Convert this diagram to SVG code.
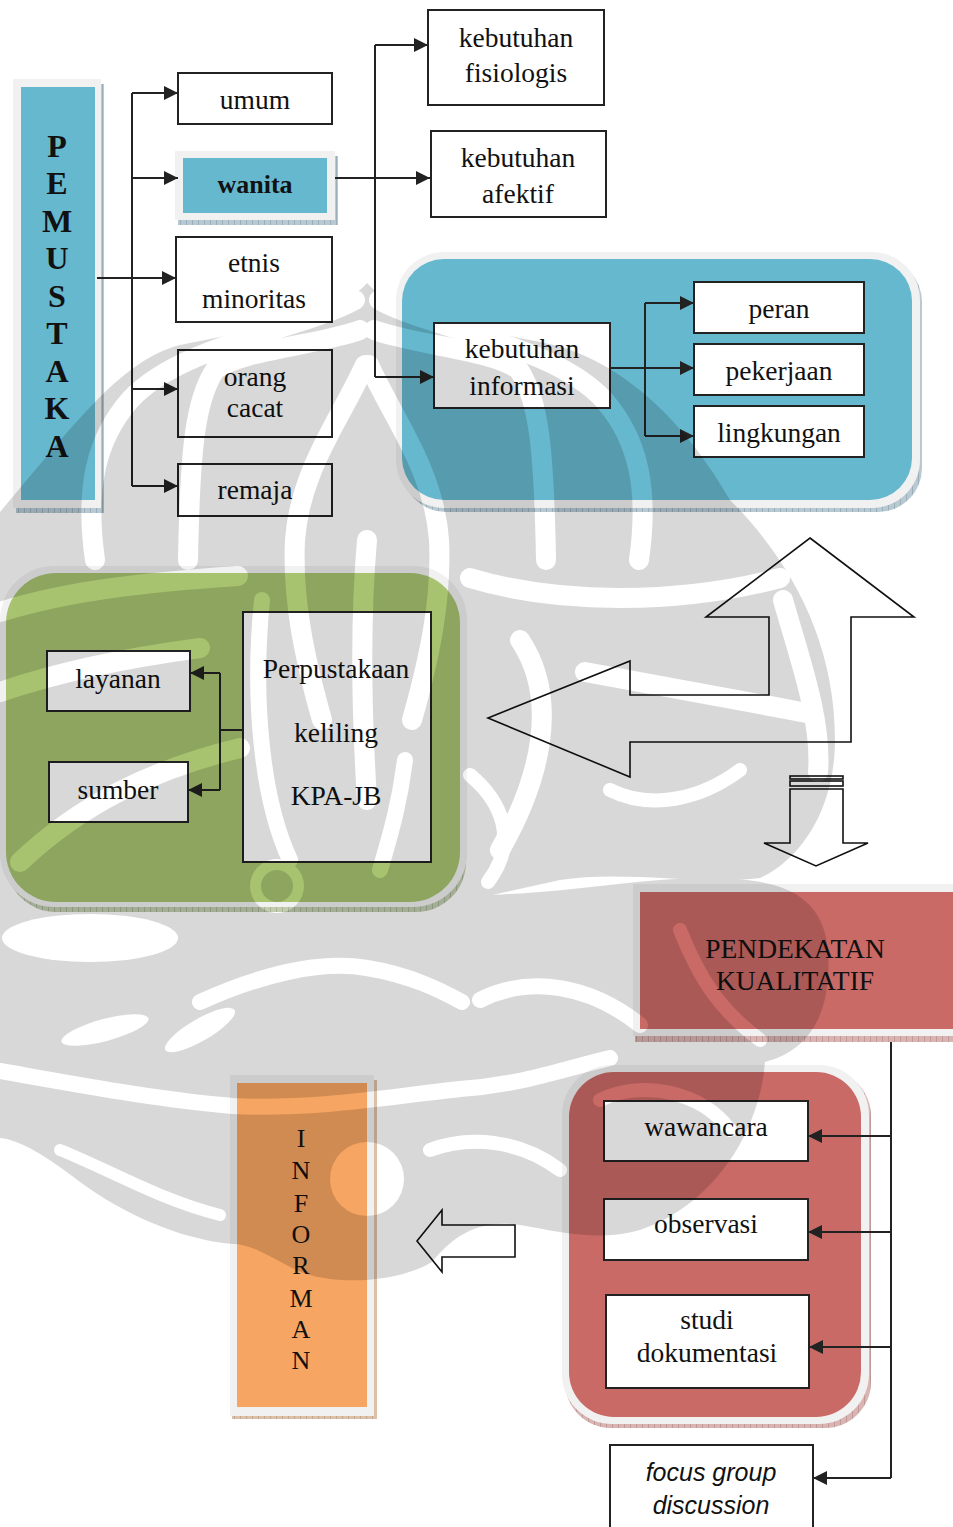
<svg xmlns="http://www.w3.org/2000/svg" width="953" height="1527" viewBox="0 0 953 1527">
<defs>
<style>
.box{fill:#fff;stroke:#222;stroke-width:2}
.frame{fill:#f1f1f1}
.t{font-family:"Liberation Serif","Times New Roman",serif;font-size:27.5px;fill:#111;text-anchor:middle}
.tb{font-family:"Liberation Serif","Times New Roman",serif;font-size:26px;font-weight:bold;fill:#111;text-anchor:middle}
.vl{font-family:"Liberation Serif","Times New Roman",serif;font-size:32px;font-weight:bold;fill:#111;text-anchor:middle}
.vi{font-family:"Liberation Serif","Times New Roman",serif;font-size:26px;fill:#111;text-anchor:middle}
.it{font-family:"Liberation Sans",Arial,sans-serif;font-size:25px;font-style:italic;fill:#111;text-anchor:middle}
.c{fill:none;stroke:#222;stroke-width:2}
.big{fill:#fff;stroke:#111;stroke-width:1.6}
</style>
<marker id="ah" markerWidth="14" markerHeight="14" refX="14" refY="7" orient="auto" markerUnits="userSpaceOnUse"><path d="M0,0 L14,7 L0,14 Z" fill="#222"/></marker>
<pattern id="hb" width="6" height="6" patternUnits="userSpaceOnUse"><rect width="6" height="6" fill="#b8c9d2"/><path d="M0,0 V6" stroke="#7d96a4" stroke-width="1"/></pattern>
<pattern id="hg" width="6" height="6" patternUnits="userSpaceOnUse"><rect width="6" height="6" fill="#c2cdb0"/><path d="M0,0 V6" stroke="#8d9a78" stroke-width="1"/></pattern>
<pattern id="hr" width="6" height="6" patternUnits="userSpaceOnUse"><rect width="6" height="6" fill="#d9b4b2"/><path d="M0,0 V6" stroke="#a8807e" stroke-width="1"/></pattern>
<pattern id="ho" width="6" height="6" patternUnits="userSpaceOnUse"><rect width="6" height="6" fill="#dcc1a8"/><path d="M0,0 V6" stroke="#a88a6e" stroke-width="1"/></pattern>
<mask id="wm" maskUnits="userSpaceOnUse" x="0" y="0" width="953" height="1527">
<g fill="#fff">
<path d="M0,512 C70,430 120,360 180,345 C250,330 335,320 367,283 C399,320 484,330 554,345 C630,365 690,430 730,500 C790,560 835,640 835,740 C835,810 800,860 760,878 C700,885 620,870 560,880 L470,900 L250,905 L0,905 Z"/>
<path d="M0,900 L470,895 C560,895 620,880 700,878 C760,878 822,882 828,950 C832,1010 812,1050 765,1062 C760,1130 715,1205 640,1230 C600,1242 560,1232 520,1225 C475,1218 450,1240 432,1262 C400,1282 330,1288 292,1268 C262,1252 248,1244 233,1244 C180,1240 120,1212 80,1182 C45,1155 20,1140 0,1138 Z"/>
</g>
<g fill="none" stroke="#000" stroke-linecap="round" stroke-width="20">
<path d="M355,300 C300,330 180,345 130,400 C95,440 85,490 95,560"/>
<path d="M379,300 C434,330 554,345 604,400 C639,440 649,490 639,560"/>
<path d="M360,330 C320,345 240,350 215,370 C195,400 190,450 188,560"/>
<path d="M374,330 C414,345 494,350 519,370 C539,400 544,450 546,560"/>
<path d="M365,365 C340,420 300,470 295,540 C292,600 305,660 322,720"/>
<path d="M369,365 C394,420 434,470 439,540 C442,600 429,660 412,720"/>
<path d="M0,612 C70,590 150,582 238,576"/>
<path d="M0,692 C70,668 140,656 200,648"/>
<path d="M20,862 C80,805 150,770 240,748"/>
<path d="M367,540 C360,620 362,720 367,800"/>
<path d="M262,600 C252,700 262,800 290,860" stroke-width="16"/>
<path d="M405,760 C400,800 392,830 380,870" stroke-width="16"/>
<path d="M470,578 C560,605 680,604 780,578"/>
<path d="M585,672 C680,690 740,700 812,714"/>
<path d="M783,600 C800,660 822,720 818,772"/>
<path d="M520,640 C560,700 540,780 500,850"/>
<path d="M470,775 C500,800 520,840 488,882" stroke-width="14"/>
<path d="M610,790 C650,810 700,800 740,770" stroke-width="14"/>
<path d="M200,1002 C260,975 320,960 367,968 C410,975 440,990 462,1002" stroke-width="16"/>
<path d="M0,1071 C80,1085 160,1100 233,1106 C320,1110 400,1095 460,1089 C520,1085 560,1070 610,1058" stroke-width="16"/>
<path d="M480,1000 C530,975 590,985 640,1025" stroke-width="16"/>
<path d="M680,930 C700,980 720,1010 760,1040" stroke-width="14"/>
<path d="M600,1100 C640,1080 700,1090 730,1130" stroke-width="14"/>
<path d="M430,1150 C470,1135 520,1140 560,1170" stroke-width="14"/>
<path d="M60,1150 C110,1170 160,1200 220,1215" stroke-width="12"/>
</g>
<ellipse cx="90" cy="938" rx="88" ry="24" fill="#000"/>
<ellipse cx="105" cy="1030" rx="45" ry="11" transform="rotate(-15 105 1030)" fill="#000"/>
<ellipse cx="200" cy="1030" rx="40" ry="11" transform="rotate(-30 200 1030)" fill="#000"/>
<circle cx="367" cy="1179" r="37" fill="#000"/>
<circle cx="277" cy="886" r="27" fill="#000"/>
<circle cx="277" cy="886" r="16" fill="#fff"/>
</mask>
</defs>
<rect width="953" height="1527" fill="#fff"/>

<g id="pemustaka">
<rect x="16" y="84" width="88" height="429" fill="url(#hb)"/>
<rect class="frame" x="13" y="79" width="88" height="429"/>
<rect x="21" y="87" width="74" height="413" fill="#66b8ce"/>
<text class="vl" x="57" y="157">P</text>
<text class="vl" x="57" y="194">E</text>
<text class="vl" x="57" y="232">M</text>
<text class="vl" x="57" y="269">U</text>
<text class="vl" x="57" y="307">S</text>
<text class="vl" x="57" y="344">T</text>
<text class="vl" x="57" y="382">A</text>
<text class="vl" x="57" y="419">K</text>
<text class="vl" x="57" y="457">A</text>
</g>

<g id="umum"><rect class="box" x="178" y="73" width="154" height="51"/><text class="t" x="255" y="109">umum</text></g>
<g id="wanita">
<rect x="178" y="156" width="160" height="69" fill="url(#hb)"/>
<rect class="frame" x="175" y="151" width="160" height="69"/>
<rect x="183" y="158" width="144" height="55" fill="#66b8ce"/>
<text class="tb" x="255" y="193">wanita</text>
</g>
<g id="etnis"><rect class="box" x="176" y="237" width="156" height="85"/><text class="t" x="254" y="272">etnis</text><text class="t" x="254" y="308">minoritas</text></g>
<g id="cacat"><rect class="box" x="178" y="350" width="154" height="87"/><text class="t" x="255" y="386">orang</text><text class="t" x="255" y="417">cacat</text></g>
<g id="remaja"><rect class="box" x="178" y="464" width="154" height="52"/><text class="t" x="255" y="499">remaja</text></g>

<g id="fisiologis"><rect class="box" x="428" y="10" width="176" height="95"/><text class="t" x="516" y="47">kebutuhan</text><text class="t" x="516" y="82">fisiologis</text></g>
<g id="afektif"><rect class="box" x="431" y="131" width="175" height="86"/><text class="t" x="518" y="167">kebutuhan</text><text class="t" x="518" y="203">afektif</text></g>

<g id="blue-container">
<rect x="402" y="258" width="520" height="254" rx="44" fill="url(#hb)"/>
<rect class="frame" x="396" y="252" width="524" height="256" rx="48"/>
<rect x="402" y="259" width="510" height="241" rx="42" fill="#66b8ce"/>
</g>
<g id="informasi"><rect class="box" x="434" y="323" width="176" height="85"/><text class="t" x="522" y="358">kebutuhan</text><text class="t" x="522" y="395">informasi</text></g>
<g id="peran"><rect class="box" x="694" y="282" width="170" height="51"/><text class="t" x="779" y="318">peran</text></g>
<g id="pekerjaan"><rect class="box" x="694" y="344" width="170" height="51"/><text class="t" x="779" y="380">pekerjaan</text></g>
<g id="lingkungan"><rect class="box" x="694" y="406" width="170" height="51"/><text class="t" x="779" y="442">lingkungan</text></g>

<g id="green-container">
<rect x="6" y="572" width="460" height="340" rx="50" fill="url(#hg)"/>
<rect class="frame" x="0" y="566" width="467" height="341" rx="54"/>
<rect x="6" y="573" width="454" height="329" rx="50" fill="#a7c36f"/>
</g>
<g id="perpustakaan"><rect class="box" x="243" y="612" width="188" height="250"/><text class="t" x="336" y="678">Perpustakaan</text><text class="t" x="336" y="742">keliling</text><text class="t" x="336" y="805">KPA-JB</text></g>
<g id="layanan"><rect class="box" x="47" y="651" width="143" height="60"/><text class="t" x="118" y="688">layanan</text></g>
<g id="sumber"><rect class="box" x="49" y="762" width="139" height="60"/><text class="t" x="118" y="799">sumber</text></g>

<g id="arrow-big">
<path class="big" d="M810,538 L914,617 L851,617 L851,742 L630,742 L630,777 L488,718 L630,661 L630,695 L769,695 L769,617 L706,617 Z"/>
</g>
<g id="arrow-down">
<rect class="big" x="790" y="776" width="53" height="3"/>
<rect class="big" x="790" y="781" width="53" height="5"/>
<path class="big" d="M790,789 L843,789 L843,843 L868,843 L816,866 L764,843 L790,843 Z"/>
</g>

<g id="pendekatan">
<rect x="635" y="889" width="318" height="153" fill="url(#hr)"/>
<rect class="frame" x="633" y="884" width="320" height="152"/>
<rect x="640" y="892" width="313" height="137" fill="#c96a66"/>
<text class="t" x="795" y="958">PENDEKATAN</text>
<text class="t" x="795" y="990">KUALITATIF</text>
</g>

<g id="red-container">
<rect x="565" y="1070" width="306" height="358" rx="46" fill="url(#hr)"/>
<rect class="frame" x="562" y="1065" width="307" height="359" rx="50"/>
<rect x="569" y="1072" width="292" height="345" rx="45" fill="#c96a66"/>
</g>
<g id="wawancara"><rect class="box" x="604" y="1101" width="204" height="60"/><text class="t" x="706" y="1136">wawancara</text></g>
<g id="observasi"><rect class="box" x="604" y="1199" width="204" height="61"/><text class="t" x="706" y="1233">observasi</text></g>
<g id="studi"><rect class="box" x="606" y="1295" width="203" height="93"/><text class="t" x="707" y="1329">studi</text><text class="t" x="707" y="1362">dokumentasi</text></g>
<g id="fgd"><rect class="box" x="610" y="1445" width="203" height="90"/><text class="it" x="711" y="1481">focus group</text><text class="it" x="711" y="1514">discussion</text></g>

<g id="informan">
<rect x="232" y="1080" width="145" height="339" fill="url(#ho)"/>
<rect class="frame" x="230" y="1075" width="144" height="341"/>
<rect x="237" y="1083" width="130" height="324" fill="#f6a562"/>
<text class="vi" x="301" y="1147">I</text>
<text class="vi" x="301" y="1179">N</text>
<text class="vi" x="301" y="1212">F</text>
<text class="vi" x="301" y="1243">O</text>
<text class="vi" x="301" y="1274">R</text>
<text class="vi" x="301" y="1307">M</text>
<text class="vi" x="301" y="1338">A</text>
<text class="vi" x="301" y="1369">N</text>
</g>
<g id="arrow-left">
<path class="big" d="M515,1225 L515,1257 L442,1257 L442,1272 L417,1241 L442,1210 L442,1225 Z"/>
</g>

<g id="connectors">
<path class="c" d="M97,278 H176" marker-end="url(#ah)"/>
<path class="c" d="M132,93 V486"/>
<path class="c" d="M132,93 H178" marker-end="url(#ah)"/>
<path class="c" d="M132,178 H178" marker-end="url(#ah)"/>
<path class="c" d="M132,389 H178" marker-end="url(#ah)"/>
<path class="c" d="M132,486 H178" marker-end="url(#ah)"/>
<path class="c" d="M335,178 H430" marker-end="url(#ah)"/>
<path class="c" d="M375,45 V377"/>
<path class="c" d="M375,45 H428" marker-end="url(#ah)"/>
<path class="c" d="M375,377 H434" marker-end="url(#ah)"/>
<path class="c" d="M610,368 H694" marker-end="url(#ah)"/>
<path class="c" d="M645,303 V436"/>
<path class="c" d="M645,303 H694" marker-end="url(#ah)"/>
<path class="c" d="M645,436 H694" marker-end="url(#ah)"/>
<path class="c" d="M243,730 H220"/>
<path class="c" d="M220,673 V790"/>
<path class="c" d="M220,673 H190" marker-end="url(#ah)"/>
<path class="c" d="M220,790 H188" marker-end="url(#ah)"/>
<path class="c" d="M891,1042 V1478"/>
<path class="c" d="M891,1136 H808" marker-end="url(#ah)"/>
<path class="c" d="M891,1232 H808" marker-end="url(#ah)"/>
<path class="c" d="M891,1347 H809" marker-end="url(#ah)"/>
<path class="c" d="M891,1478 H813" marker-end="url(#ah)"/>
</g>

<g id="watermark">
<rect x="0" y="0" width="953" height="1527" fill="#000" opacity="0.15" mask="url(#wm)"/>
</g>
</svg>
